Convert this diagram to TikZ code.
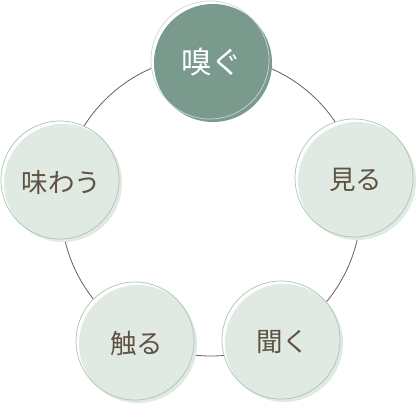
\documentclass[tikz,border=0pt]{standalone}
\usepackage{fontspec}
\newfontfamily\jp{Noto Sans CJK JP}
\definecolor{ringline}{HTML}{6B5F52}
\definecolor{lightfill}{HTML}{E1EAE2}
\definecolor{darkfill}{HTML}{7A9A8E}
\definecolor{rimlight}{HTML}{A9C4B6}
\definecolor{rimdark}{HTML}{C9D9D0}
\definecolor{labeltext}{HTML}{5E5343}
\tikzset{
  lbl/.style={font=\jp\fontsize{26.5}{26.5}\selectfont, text=labeltext, inner sep=0pt},
  toplbl/.style={font=\jp\fontsize{30.5}{30.5}\selectfont, text=white, inner sep=0pt},
}
\newcommand{\sensecircle}[5]{%
  % #1 x, #2 y (outline centre), #3 fill colour, #4 rim colour, #5 name
  \fill[white] (#1,#2) circle[radius=59];
  \fill[#3] ({#1+3},{#2+3}) circle[radius=59];
  \draw[#4, line width=0.7pt] (#1,#2) circle[radius=59];
  \coordinate (#5) at ({#1+1.5},{#2+2});
}
\begin{document}
\begin{tikzpicture}[x=1pt,y=-1pt]
\useasboundingbox (0,0) rectangle (418,405);
\coordinate (hub) at (211,206);
\draw[ringline, line width=0.8pt] (hub) circle[radius=150];
\sensecircle{210}{60}{darkfill}{rimdark}{cTop}
\sensecircle{354}{178}{lightfill}{rimlight}{cRight}
\sensecircle{60}{180}{lightfill}{rimlight}{cLeft}
\sensecircle{281}{340}{lightfill}{rimlight}{cBR}
\sensecircle{135}{341}{lightfill}{rimlight}{cBL}
\node[toplbl] (tTop) at (cTop) {嗅ぐ};
\node[lbl] (tRight) at (cRight) {見る};
\node[lbl] (tLeft) at (cLeft) {味わう};
\node[lbl] (tBR) at (cBR) {聞く};
\node[lbl] (tBL) at (cBL) {触る};
\end{tikzpicture}
\end{document}
